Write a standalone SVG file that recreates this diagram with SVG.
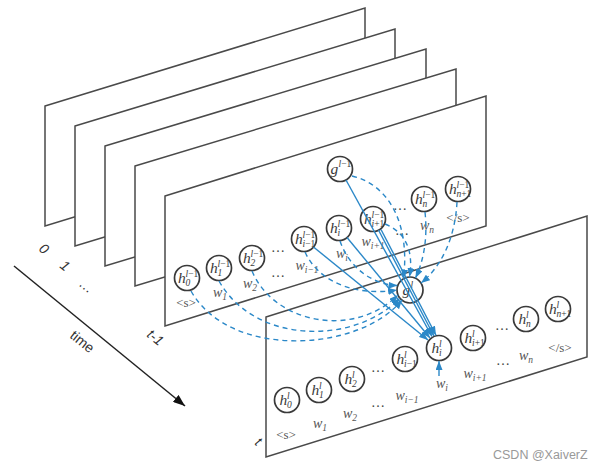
<svg xmlns="http://www.w3.org/2000/svg" width="597" height="470" viewBox="0 0 597 470">
<style>
.pl{fill:#fff;stroke:#4a4a4a;stroke-width:1.5;stroke-linejoin:miter}
.nd{fill:#fff;stroke:#3a3a3a;stroke-width:1.7}
.m{font-family:"Liberation Serif",serif;font-style:italic;fill:#3a3a3a}
.hv{font-size:15.5px}
.s{font-size:9.5px}
.w{font-family:"Liberation Serif",serif;font-style:italic;fill:#555;font-size:14px}
.sb{font-size:9.5px}
.tk{font-family:"Liberation Serif",serif;fill:#555;font-size:13px}
.el{font-family:"Liberation Serif",serif;fill:#444;font-size:14px}
.ax{font-family:"Liberation Sans",sans-serif;fill:#333;font-size:14px}
.sol{fill:none;stroke:#2b88c8;stroke-width:1.4;marker-end:url(#ab)}
.dsh{fill:none;stroke:#2b88c8;stroke-width:1.4;stroke-dasharray:5 4;marker-end:url(#ab)}
</style>
<defs>
<marker id="ab" viewBox="0 0 9 7" refX="9" refY="3.5" markerWidth="9" markerHeight="7" markerUnits="userSpaceOnUse" orient="auto"><path d="M0,0 L9,3.5 L0,7 z" fill="#2b88c8"/></marker>
<marker id="ak" viewBox="0 0 12 9" refX="12" refY="4.5" markerWidth="12" markerHeight="9" markerUnits="userSpaceOnUse" orient="auto"><path d="M0,0 L12,4.5 L0,9 z" fill="#111"/></marker>
</defs>
<rect width="597" height="470" fill="#fff"/>

<g id="planes">
<path class="pl" d="M45,106 L365,8 L365,128 L45,226 Z"/>
<path class="pl" d="M75,126 L395,29 L395,149 L75,246 Z"/>
<path class="pl" d="M105,146 L426,49 L426,169 L105,266 Z"/>
<path class="pl" d="M135,166 L456,69 L456,189 L135,286 Z"/>
<path class="pl" d="M165,196 L486,96 L486,226 L165,326 Z"/>
<path class="pl" d="M266,317 L587,216 L587,357 L266,457 Z"/>
</g>

<g id="time-axis">
<line x1="14" y1="266" x2="185" y2="406" stroke="#222" stroke-width="1.5" marker-end="url(#ak)"/>
<text class="ax" font-size="16" transform="translate(69,337) rotate(39)">time</text>
<text class="ax" font-style="italic" transform="translate(38,250) rotate(39)">0</text>
<text class="ax" font-style="italic" transform="translate(59,267) rotate(39)">1</text>
<text class="ax" transform="translate(78,285) rotate(39)">…</text>
<text class="ax" font-style="italic" transform="translate(146,336) rotate(39)">t-1</text>
<text class="ax" font-style="italic" transform="translate(254,444) rotate(39)">t</text>
</g>

<g id="labels-t-1">
<text class="tk" x="186" y="307" text-anchor="middle">&lt;s&gt;</text>
<text class="w" x="220" y="297" text-anchor="middle">w<tspan class="sb" dy="3">1</tspan></text>
<text class="w" x="250" y="288" text-anchor="middle">w<tspan class="sb" dy="3">2</tspan></text>
<text class="el" x="278" y="277" text-anchor="middle">…</text>
<text class="el" x="278" y="252" text-anchor="middle">…</text>
<text class="w" x="307" y="270" text-anchor="middle">w<tspan class="sb" dy="3">i−1</tspan></text>
<text class="w" x="342" y="258" text-anchor="middle">w<tspan class="sb" dy="3">i</tspan></text>
<text class="w" x="373" y="246" text-anchor="middle">w<tspan class="sb" dy="3">i+1</tspan></text>
<text class="el" x="402" y="235" text-anchor="middle">…</text>
<text class="el" x="400" y="210" text-anchor="middle">…</text>
<text class="w" x="427" y="230" text-anchor="middle">w<tspan class="sb" dy="3">n</tspan></text>
<text class="tk" x="458" y="222" text-anchor="middle">&lt;/s&gt;</text>
</g>

<g id="labels-t">
<text class="tk" x="286" y="439" text-anchor="middle">&lt;s&gt;</text>
<text class="w" x="320" y="428" text-anchor="middle">w<tspan class="sb" dy="3">1</tspan></text>
<text class="w" x="350" y="418" text-anchor="middle">w<tspan class="sb" dy="3">2</tspan></text>
<text class="el" x="378" y="407" text-anchor="middle">…</text>
<text class="el" x="378" y="372" text-anchor="middle">…</text>
<text class="w" x="407" y="400" text-anchor="middle">w<tspan class="sb" dy="3">i−1</tspan></text>
<text class="w" x="442" y="388" text-anchor="middle">w<tspan class="sb" dy="3">i</tspan></text>
<text class="w" x="475" y="378" text-anchor="middle">w<tspan class="sb" dy="3">i+1</tspan></text>
<text class="el" x="503" y="365" text-anchor="middle">…</text>
<text class="el" x="502" y="330" text-anchor="middle">…</text>
<text class="w" x="526" y="360" text-anchor="middle">w<tspan class="sb" dy="3">n</tspan></text>
<text class="tk" x="560" y="352" text-anchor="middle">&lt;/s&gt;</text>
</g>

<g id="h0-prev"><circle class="nd" cx="187" cy="278" r="12.5"/><text class="m hv" x="178" y="283">h</text><text class="m s" x="185.5" y="276.5">l<tspan font-style="normal">−1</tspan></text><text class="m s" x="185.5" y="286" font-style="normal">0</text></g>
<g id="h1-prev"><circle class="nd" cx="219" cy="268" r="12.5"/><text class="m hv" x="210" y="273">h</text><text class="m s" x="217.5" y="266.5">l<tspan font-style="normal">−1</tspan></text><text class="m s" x="217.5" y="276" font-style="normal">1</text></g>
<g id="h2-prev"><circle class="nd" cx="252" cy="258" r="12.5"/><text class="m hv" x="243" y="263">h</text><text class="m s" x="250.5" y="256.5">l<tspan font-style="normal">−1</tspan></text><text class="m s" x="250.5" y="266" font-style="normal">2</text></g>
<g id="him1-prev"><circle class="nd" cx="304" cy="239" r="12.5"/><text class="m hv" x="295" y="244">h</text><text class="m s" x="302.5" y="237.5">l<tspan font-style="normal">−1</tspan></text><text class="m s" x="302.5" y="247">i<tspan font-style="normal">−1</tspan></text></g>
<g id="hi-prev"><circle class="nd" cx="339" cy="228" r="12.5"/><text class="m hv" x="330" y="233">h</text><text class="m s" x="337.5" y="226.5">l<tspan font-style="normal">−1</tspan></text><text class="m s" x="337.5" y="236">i</text></g>
<g id="hip1-prev"><circle class="nd" cx="373" cy="219" r="12.5"/><text class="m hv" x="364" y="224">h</text><text class="m s" x="371.5" y="217.5">l<tspan font-style="normal">−1</tspan></text><text class="m s" x="371.5" y="227">i<tspan font-style="normal">+1</tspan></text></g>
<g id="hn-prev"><circle class="nd" cx="424" cy="199" r="12.5"/><text class="m hv" x="415" y="204">h</text><text class="m s" x="422.5" y="197.5">l<tspan font-style="normal">−1</tspan></text><text class="m s" x="422.5" y="207">n</text></g>
<g id="hn1-prev"><circle class="nd" cx="458" cy="189" r="12.5"/><text class="m hv" x="449" y="194">h</text><text class="m s" x="456.5" y="187.5">l<tspan font-style="normal">−1</tspan></text><text class="m s" x="456.5" y="197">n<tspan font-style="normal">+1</tspan></text></g>
<g id="g-prev"><circle class="nd" cx="340" cy="169" r="12.5"/><text class="m hv" x="330.5" y="173.5">g</text><text class="m s" x="338.5" y="166.5">l<tspan font-style="normal">−1</tspan></text></g>

<g id="g-cur"><circle class="nd" cx="410" cy="290" r="13"/><text class="m hv" x="402.5" y="294.5">g</text><text class="m s" x="410.5" y="287.5">l</text></g>

<g id="h0"><circle class="nd" cx="287" cy="400" r="12.5"/><text class="m hv" x="279.5" y="405">h</text><text class="m s" x="287" y="398.5">l</text><text class="m s" x="287" y="408" font-style="normal">0</text></g>
<g id="h1"><circle class="nd" cx="319" cy="390" r="12.5"/><text class="m hv" x="311.5" y="395">h</text><text class="m s" x="319" y="388.5">l</text><text class="m s" x="319" y="398" font-style="normal">1</text></g>
<g id="h2"><circle class="nd" cx="352" cy="379" r="12.5"/><text class="m hv" x="344.5" y="384">h</text><text class="m s" x="352" y="377.5">l</text><text class="m s" x="352" y="387" font-style="normal">2</text></g>
<g id="him1"><circle class="nd" cx="405" cy="359" r="12.5"/><text class="m hv" x="396.5" y="364">h</text><text class="m s" x="404" y="357.5">l</text><text class="m s" x="404" y="367">i<tspan font-style="normal">−1</tspan></text></g>
<g id="hi"><circle class="nd" cx="439" cy="348" r="12.5"/><text class="m hv" x="431.5" y="353">h</text><text class="m s" x="439" y="346.5">l</text><text class="m s" x="439" y="356">i</text></g>
<g id="hip1"><circle class="nd" cx="473" cy="338" r="12.5"/><text class="m hv" x="464.5" y="343">h</text><text class="m s" x="472" y="336.5">l</text><text class="m s" x="472" y="346">i<tspan font-style="normal">+1</tspan></text></g>
<g id="hn"><circle class="nd" cx="526" cy="319" r="12.5"/><text class="m hv" x="518.5" y="324">h</text><text class="m s" x="526" y="317.5">l</text><text class="m s" x="526" y="327">n</text></g>
<g id="hn1"><circle class="nd" cx="558" cy="309" r="12.5"/><text class="m hv" x="549" y="314">h</text><text class="m s" x="556.5" y="307.5">l</text><text class="m s" x="556.5" y="317">n<tspan font-style="normal">+1</tspan></text></g>

<g id="connectors">
<path class="dsh" d="M191,291 C230,360 360,352 402,300"/>
<path class="dsh" d="M219,281 C255,345 355,345 400,298"/>
<path class="dsh" d="M252,271 C275,325 355,338 398,295"/>
<path class="dsh" d="M305,252 C320,285 360,296 397,290"/>
<path class="dsh" d="M340,241 C350,270 375,285 397.5,285.5"/>
<path class="dsh" d="M352,176 C390,185 410,225 403.5,278.5"/>
<path class="dsh" d="M385,224 C405,232 414,250 409.5,277"/>
<path class="dsh" d="M425,212 C428,240 423,262 415.5,278"/>
<path class="dsh" d="M457,202 C455,240 440,268 421,283"/>
<line class="sol" x1="313.5" y1="247" x2="428" y2="340"/>
<line class="sol" x1="347" y1="237.5" x2="430" y2="338"/>
<line class="sol" x1="346" y1="180" x2="432" y2="336.5"/>
<line class="sol" x1="378.5" y1="230" x2="434" y2="336"/>
<line class="sol" x1="381" y1="229.5" x2="436" y2="335.3"/>
<line class="sol" x1="439" y1="376" x2="439" y2="361"/>
</g>

<text x="493" y="459" font-family="Liberation Sans,sans-serif" font-size="12.5" fill="#999">CSDN @XaiverZ</text>
</svg>
